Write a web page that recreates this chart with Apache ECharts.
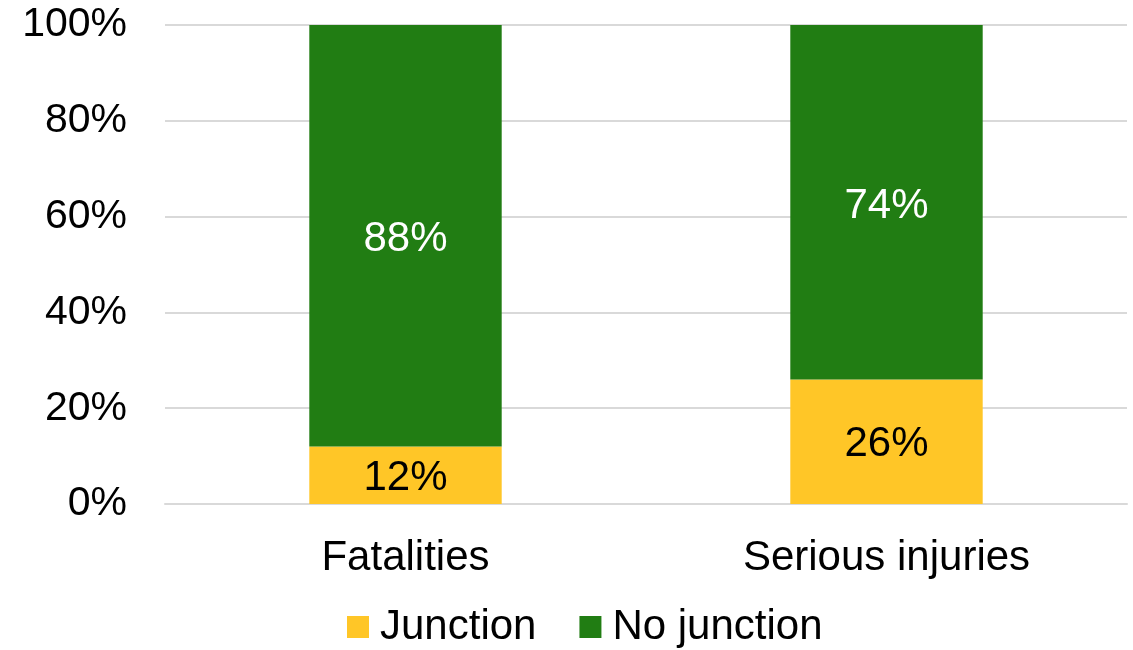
<!DOCTYPE html>
<html>
<head>
<meta charset="utf-8">
<script src="https://cdn.jsdelivr.net/npm/echarts@6/dist/echarts.min.js"></script>
<style>
html,body{margin:0;padding:0;background:#fff;}
#chart{width:1133px;height:650px;}
</style>
</head>
<body>
<div id="chart"></div>
<script>
const categories = ["Fatalities", "Serious injuries"];
const junction = [12, 26];
const noJunction = [88, 74];
const yTicks = [0, 20, 40, 60, 80, 100];

const font = "'Liberation Sans', Arial, sans-serif";
const chart = echarts.init(document.getElementById('chart'), null, {renderer: 'canvas'});
chart.setOption({
  animation: false,
  backgroundColor: '#ffffff',
  grid: {left: 165, right: 6, top: 25, bottom: 146, containLabel: false},
  legend: {
    left: 342, top: 601,
    itemWidth: 22, itemHeight: 22, itemGap: 43,
    icon: 'rect',
    textStyle: {fontFamily: font, fontSize: 42, color: '#000', padding: [0, 0, 0, 6]},
    data: ['Junction', 'No junction']
  },
  xAxis: {
    type: 'category',
    data: categories,
    axisLine: {show: true, lineStyle: {color: '#d9d9d9', width: 2}},
    axisTick: {show: false},
    axisLabel: {fontFamily: font, fontSize: 42, color: '#000', margin: 33}
  },
  yAxis: {
    type: 'value',
    min: yTicks[0], max: yTicks[yTicks.length - 1], interval: 20,
    axisLine: {show: false},
    axisTick: {show: false},
    splitLine: {lineStyle: {color: '#d9d9d9', width: 2}},
    axisLabel: {fontFamily: font, fontSize: 41, color: '#000', margin: 38, padding: [6, 0, 0, 0], formatter: '{value}%'}
  },
  series: [
    {
      name: 'Junction', type: 'bar', stack: 'total', data: junction,
      barWidth: '40%',
      itemStyle: {color: '#FFC627'},
      label: {show: true, position: 'inside', offset: [0, 3], formatter: '{c}%', fontFamily: font, fontSize: 42, color: '#000'}
    },
    {
      name: 'No junction', type: 'bar', stack: 'total', data: noJunction,
      barWidth: '40%',
      itemStyle: {color: '#217D13'},
      label: {show: true, position: 'inside', offset: [0, 4], formatter: '{c}%', fontFamily: font, fontSize: 42, color: '#fff'}
    }
  ]
});
</script>
</body>
</html>
